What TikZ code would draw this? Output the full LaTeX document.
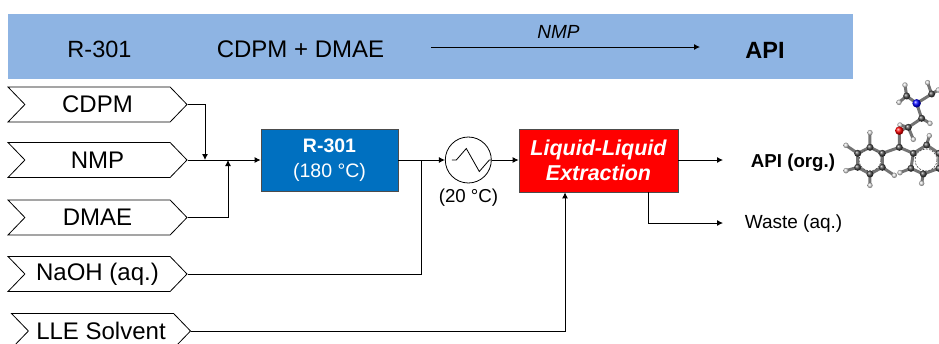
\documentclass[tikz,border=0pt]{standalone}
\usepackage{fontspec}
\setmainfont{Liberation Sans}
\usetikzlibrary{arrows.meta,shapes.symbols,calc}
\definecolor{banner}{HTML}{8EB4E3}
\definecolor{rblue}{HTML}{0070C0}
\definecolor{atomC}{HTML}{4A4A4A}
\tikzset{
  x=1pt,y=-1pt,
  feed/.style={signal,signal to=east,signal from=west,signal pointer angle=92,draw=black,line width=.8pt,fill=white,minimum width=179pt,minimum height=35pt,inner sep=0pt,font=\fontsize{24}{26}\selectfont},
  flow/.style={draw=black,line width=.9pt,-{Latex[length=6pt,width=6pt]}},
  plain/.style={draw=black,line width=.9pt},
  unit/.style={draw=black!70,line width=.8pt,inner sep=0pt,align=center},
  bond/.style={line width=3pt,draw=black!55},
  ringin/.style={line width=.6pt,draw=white,dash pattern=on 2pt off 1.2pt},
  atc/.style={circle,inner sep=0pt,minimum size=7pt,ball color=atomC,shading=ball},
  ath/.style={circle,inner sep=0pt,minimum size=5.4pt,ball color=black!12},
  ato/.style={circle,inner sep=0pt,minimum size=8.5pt,ball color=red},
  atn/.style={circle,inner sep=0pt,minimum size=8.5pt,ball color=blue},
}
\begin{document}
\begin{tikzpicture}
\useasboundingbox (0,0) rectangle (939,343);
\clip (0,0) rectangle (939,343);
% banner
\node[fill=banner,minimum width=845pt,minimum height=65pt,inner sep=0pt,anchor=north west] (bar) at (8,14) {};
\node[font=\fontsize{23.5}{26}\selectfont] (t1) at (99.5,49) {R-301};
\node[font=\fontsize{24}{26}\selectfont] (t2) at (300.5,49) {CDPM + DMAE};
\node[font=\fontsize{23.5}{26}\selectfont\bfseries] (t3) at (765,50) {API};
\coordinate (ra) at (431,47);
\coordinate (rb) at (700,47);
\draw[flow] (ra) -- (rb);
\node[font=\fontsize{19}{20}\selectfont\itshape] (t4) at (558.5,32) {NMP};
% feeds
\node[feed] (cdpm) at (97.5,104.5) {CDPM};
\node[feed] (nmp) at (97.5,160) {NMP};
\node[feed] (dmae) at (97.5,217.5) {DMAE};
\node[feed] (naoh) at (97.5,274) {NaOH (aq.)};
\node[feed] (lle) at (101,331) {LLE Solvent};
% units
\node[unit,fill=rblue,text=white,minimum width=137pt,minimum height=62pt,font=\fontsize{19.5}{25}\selectfont] (r301) at (329.5,160) {\raisebox{-1pt}{\textbf{R-301}}\\\raisebox{-1pt}{(180 °C)}};
\node[circle,draw=black,line width=.8pt,minimum size=46pt,inner sep=0pt] (hx) at (468.3,160) {};
\draw[line width=.8pt] ($(hx.center)+(-16.5,0)$) -- ++(4.5,0) -- ++(10,-11.5) -- ++(13,23) -- ++(10,-11.5) -- (hx.east);
\node[font=\fontsize{18.7}{20}\selectfont] (hxt) at (468.5,198) {(20 °C)};
\node[unit,fill=red,text=white,minimum width=159pt,minimum height=63pt,font=\fontsize{21.5}{25}\selectfont\bfseries\itshape] (ext) at (598.5,160.5) {Liquid-Liquid\\Extraction};
% products
\coordinate (apiend) at (723,160);
\coordinate (wasteend) at (723,223);
\coordinate (wastestart) at (648,192);
\node[font=\fontsize{18.7}{20}\selectfont\bfseries] (api) at (793,162.5) {API (org.)};
\node[font=\fontsize{19}{20}\selectfont] (waste) at (793.5,223.5) {Waste (aq.)};
% connectors
\coordinate (j1) at (205,160);
\coordinate (j2) at (228,160);
\coordinate (j3) at (421,160);
\coordinate (j4) at (565,331);
\draw[flow] (nmp.east) -- (r301.west);
\draw[flow] (cdpm.east) -| (j1);
\draw[flow] (dmae.east) -| (j2);
\draw[flow] (r301.east) -- (hx.west);
\draw[flow] (hx.east) -- (ext.west |- hx.east);
\draw[plain] (naoh.east) -| (j3);
\draw[flow] (lle.east) -| (ext.south -| j4);
\draw[flow] (ext.east |- apiend) -- (apiend);
\draw[flow] (wastestart) |- (wasteend);
% molecule (target coordinates)
\begin{scope}[shift={(700,70)},x=.3333pt,y=-.3333pt]
  \draw[bond] (510,232)--(547,250)--(547,292)--(510,312)--(473,292)--(473,250)--cycle;
  \draw[bond] (633,295)--(670,312)--(717,295)--(717,250)--(680,225)--(640,250)--cycle;
  \draw[bond] (510,232)--(510,190) (473,250)--(438,226) (473,292)--(438,302) (510,312)--(510,346) (547,292)--(583,316);
  \draw[bond] (547,250)--(598,232)--(640,250) (598,232)--(598,182)--(625,172)--(665,145)--(650,100)--(620,78) (650,100)--(695,72);
  \draw[bond] (680,225)--(688,197) (670,312)--(665,340) (633,295)--(600,308);
  \draw[bond] (625,172)--(600,165) (625,172)--(640,208) (665,145)--(690,160) (620,78)--(615,45) (620,78)--(597,97) (695,72)--(683,38) (695,72)--(715,60);
  \draw[ringin,draw=black!70] (510,270) circle (33);
  \draw[ringin,draw=black!70] (678,270) circle (33);
  \foreach \p in {(510,188),(438,226),(438,302),(510,346),(583,316),(688,197),(665,340),(600,308),(600,165),(640,208),(690,160),(615,45),(597,97),(683,38),(715,60)}{\node[ath] at \p {};}
  \foreach \p in {(510,232),(547,250),(547,292),(510,312),(473,292),(473,250),(633,295),(670,312),(717,295),(717,250),(680,225),(640,250),(598,232),(625,172),(665,145),(620,78),(695,72)}{\node[atc] at \p {};}
  \node[ato] at (598,182) {};
  \node[atn] at (650,100) {};
\end{scope}
\end{tikzpicture}
\end{document}
